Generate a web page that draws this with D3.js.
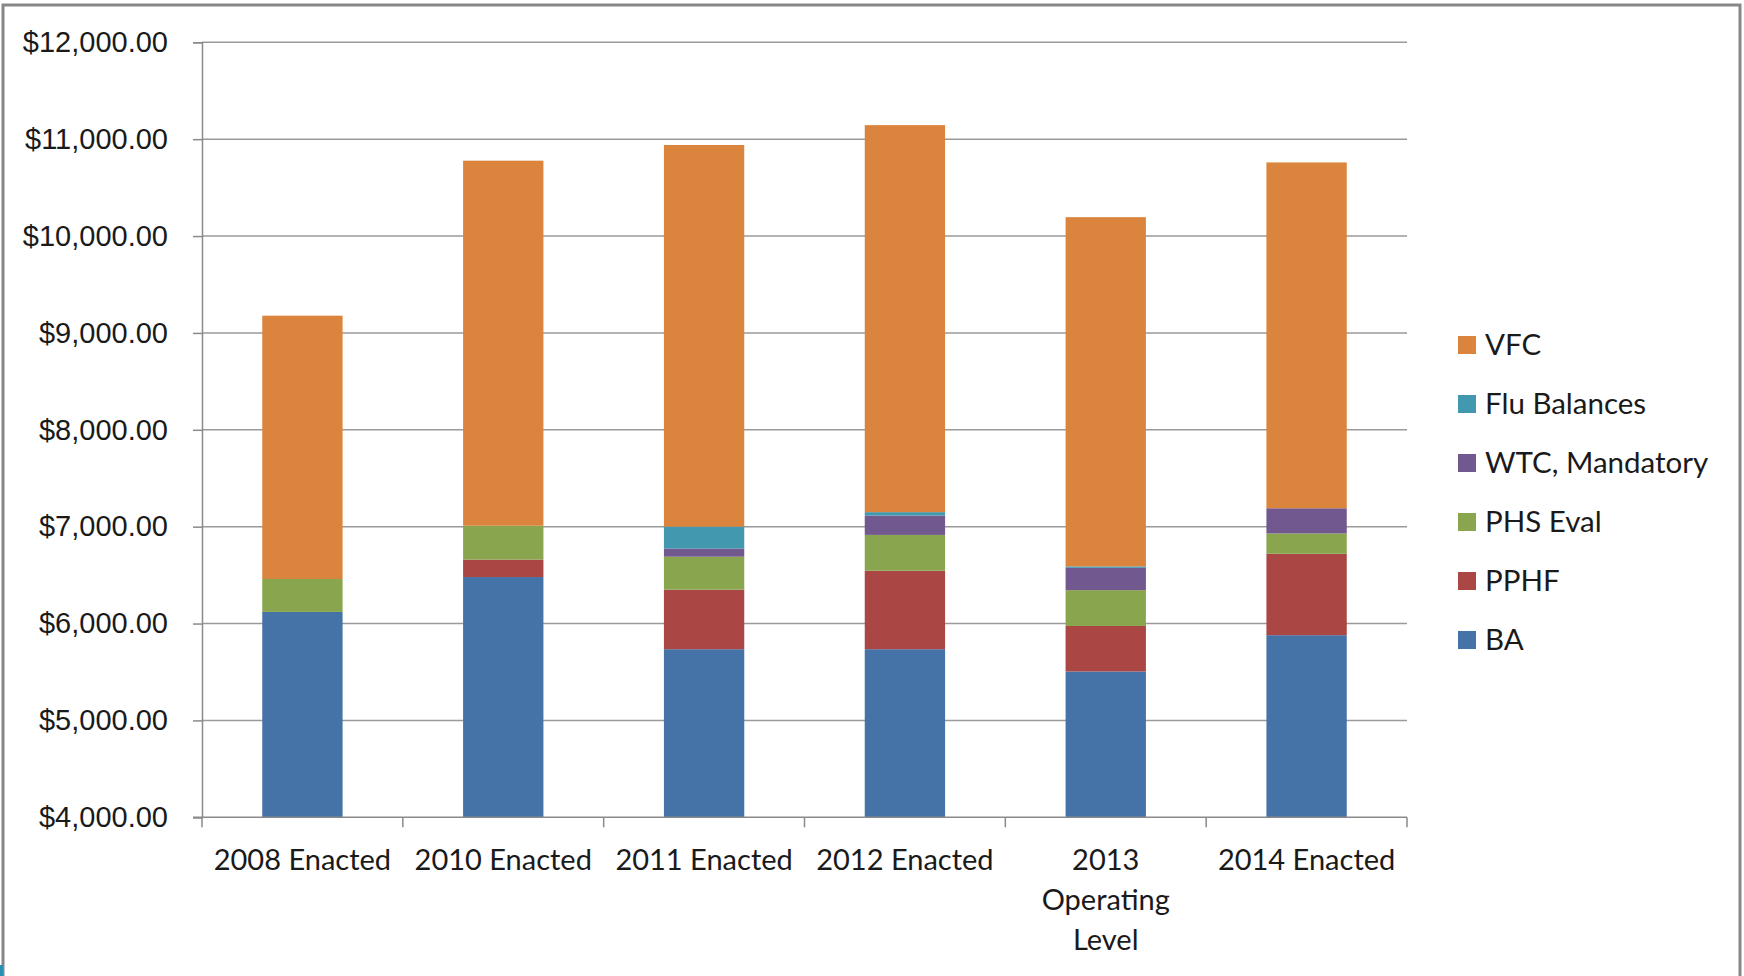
<!DOCTYPE html>
<html>
<head>
<meta charset="utf-8">
<script src="https://cdn.jsdelivr.net/npm/d3@7"></script>
<style>
  body { margin: 0; background: #fff; }
  svg { display: block; font-family: Lato, "Open Sans", sans-serif; }
</style>
</head>
<body>
<div id="chart"></div>
<script>
const categories = ["2008 Enacted", "2010 Enacted", "2011 Enacted", "2012 Enacted", "2013 Operating Level", "2014 Enacted"];
const seriesNames = ["BA", "PPHF", "PHS Eval", "WTC, Mandatory", "Flu Balances", "VFC"];
const baValues   = [6120, 6480, 5735, 5735, 5505, 5880];
const pphfValues = [0, 180, 615, 810, 470, 840];
const phsValues  = [340, 350, 340, 370, 370, 210];
const wtcValues  = [0, 0, 85, 200, 230, 260];
const fluValues  = [0, 0, 225, 35, 15, 0];
const vfcValues  = [2718, 3768, 3940, 3995, 3605, 3570];
const yTicks = [4000, 5000, 6000, 7000, 8000, 9000, 10000, 11000, 12000];
const colors = ["#4572A7", "#AA4643", "#89A54E", "#71588F", "#4198AF", "#DB843D"];

const allValues = [baValues, pphfValues, phsValues, wtcValues, fluValues, vfcValues];
const data = categories.map((c, i) => {
  const row = {cat: c};
  seriesNames.forEach((s, j) => row[s] = allValues[j][i]);
  return row;
});

const W = 1744, H = 976;
const plotLeft = 202, plotRight = 1407, plotTop = 42.3, plotBottom = 817.3;

const svg = d3.select("#chart").append("svg")
    .attr("width", W)
    .attr("height", H);

// outer chart border (top, left, right only; the bottom is cut off)
svg.append("path")
    .attr("d", "M3,976 L3,5 L1740,5 L1740,976")
    .attr("fill", "none")
    .attr("stroke", "#878787")
    .attr("stroke-width", 3);
svg.append("rect")
    .attr("x", 0).attr("y", 965)
    .attr("width", 3).attr("height", 11)
    .attr("fill", "#2a8fb0");

const x = d3.scaleBand()
    .domain(categories)
    .range([plotLeft, plotRight])
    .paddingInner(0.6)
    .paddingOuter(0.3);

const y = d3.scaleLinear()
    .domain([4000, 12000])
    .range([plotBottom, plotTop])
    .clamp(true);

// gridlines
svg.append("g")
  .selectAll("line")
  .data(yTicks.slice(1))
  .enter().append("line")
    .attr("x1", plotLeft)
    .attr("x2", plotRight)
    .attr("y1", d => y(d))
    .attr("y2", d => y(d))
    .attr("stroke", "#9a9a9a")
    .attr("stroke-width", 1.5);

// y axis
const yAxis = svg.append("g")
    .attr("transform", `translate(${plotLeft},0)`)
    .call(d3.axisLeft(y).tickValues(yTicks).tickSize(9).tickPadding(25)
      .tickFormat(d => "$" + d3.format(",.2f")(d)));
yAxis.select(".domain").attr("stroke", "#8a8a8a").attr("stroke-width", 1.5);
yAxis.selectAll(".tick line").attr("stroke", "#8a8a8a").attr("stroke-width", 1.5);
yAxis.selectAll(".tick text")
    .attr("fill", "#1a1a1a")
    .style("font-size", "29px");

// bars
const stack = d3.stack().keys(seriesNames);
const layers = stack(data);

svg.append("g")
  .selectAll("g")
  .data(layers)
  .enter().append("g")
    .attr("fill", (d, i) => colors[i])
  .selectAll("rect")
  .data(d => d)
  .enter().append("rect")
    .attr("x", d => x(d.data.cat))
    .attr("width", x.bandwidth())
    .attr("y", d => y(d[1]))
    .attr("height", d => y(d[0]) - y(d[1]));

// x axis
const xAxis = svg.append("g")
    .attr("transform", `translate(0,${plotBottom})`);
xAxis.append("line")
    .attr("x1", plotLeft - 9)
    .attr("x2", plotRight)
    .attr("stroke", "#8a8a8a")
    .attr("stroke-width", 1.5);
xAxis.selectAll(".cattick")
  .data(d3.range(categories.length + 1))
  .enter().append("line")
    .attr("class", "cattick")
    .attr("x1", i => plotLeft + i * x.step())
    .attr("x2", i => plotLeft + i * x.step())
    .attr("y1", 0)
    .attr("y2", 10)
    .attr("stroke", "#8a8a8a")
    .attr("stroke-width", 1.5);

const labelLines = {
  "2013 Operating Level": ["2013", "Operating", "Level"]
};
const catText = xAxis.selectAll(".catlabel")
  .data(categories)
  .enter().append("text")
    .attr("class", "catlabel")
    .attr("text-anchor", "middle")
    .attr("fill", "#1a1a1a")
    .style("font-size", "29px")
    .attr("x", d => x(d) + x.bandwidth() / 2)
    .attr("y", 53);
catText.each(function(d) {
  const lines = labelLines[d] || [d];
  d3.select(this).selectAll("tspan")
    .data(lines)
    .enter().append("tspan")
      .attr("x", x(d) + x.bandwidth() / 2)
      .attr("dy", (l, i) => i === 0 ? 0 : 40)
      .text(l => l);
});

// legend
const legend = svg.append("g")
    .attr("transform", "translate(1458,345)");
const legendItems = legend.selectAll("g")
  .data(seriesNames.slice().reverse())
  .enter().append("g")
    .attr("transform", (d, i) => `translate(0,${i * 59})`);
legendItems.append("rect")
    .attr("x", 0)
    .attr("y", -9)
    .attr("width", 18)
    .attr("height", 18)
    .attr("fill", d => colors[seriesNames.indexOf(d)]);
legendItems.append("text")
    .attr("x", 27)
    .attr("y", 10)
    .attr("fill", "#1a1a1a")
    .style("font-size", "29.5px")
    .text(d => d);
</script>
</body>
</html>
